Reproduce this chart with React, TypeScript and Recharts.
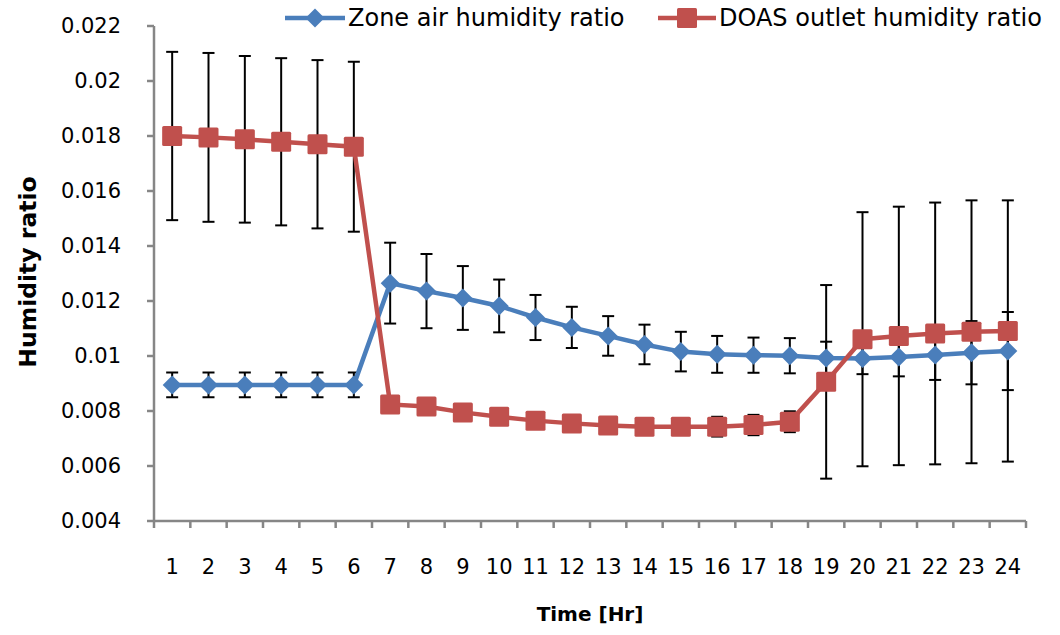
import React from 'react';
import { LineChart, Line, XAxis, YAxis, ErrorBar, Legend } from 'recharts';

// Hourly humidity ratios (kg/kg) with their spread
const hours = [1, 2, 3, 4, 5, 6, 7, 8, 9, 10, 11, 12, 13, 14, 15, 16, 17, 18, 19, 20, 21, 22, 23, 24];

const zoneAir = [
  0.00895, 0.00895, 0.00895, 0.00895, 0.00895, 0.00895, 0.01265, 0.01236, 0.01211, 0.01182, 0.0114, 0.01104,
  0.01073, 0.01042, 0.01016, 0.01006, 0.01003, 0.01001, 0.00993, 0.00991, 0.00996, 0.01004, 0.01012, 0.01018,
];
const zoneAirErr = [
  0.00045, 0.00045, 0.00045, 0.00045, 0.00045, 0.00045, 0.00147, 0.00135, 0.00116, 0.00096, 0.00082, 0.00075,
  0.00072, 0.00072, 0.00072, 0.00067, 0.00064, 0.00064, 0.00059, 0.00057, 0.0007, 0.00091, 0.00115, 0.00142,
];

const doasOutlet = [
  0.018, 0.01795, 0.01788, 0.01779, 0.0177, 0.01761, 0.00824, 0.00816, 0.00795, 0.00779, 0.00765, 0.00755,
  0.00747, 0.00743, 0.00743, 0.00743, 0.00749, 0.00761, 0.00906, 0.01061, 0.01073, 0.01082, 0.01088, 0.01091,
];
const doasOutletErr = [
  0.00306, 0.00307, 0.00303, 0.00304, 0.00306, 0.00309, 0.0003, 0.0003, 0.0003, 0.0003, 0.0003, 0.0003,
  0.0003, 0.0003, 0.0003, 0.00036, 0.00037, 0.00038, 0.00352, 0.00462, 0.0047, 0.00476, 0.00478, 0.00475,
];

const yTicks = [0.004, 0.006, 0.008, 0.01, 0.012, 0.014, 0.016, 0.018, 0.02, 0.022];
// labelled hours plus the boundaries between them, where tick marks go
const xTicks = [0.5, ...hours.flatMap((h) => [h, h + 0.5])];

const data = hours.map((hour, i) => ({
  hour,
  zone: zoneAir[i],
  zoneErr: zoneAirErr[i],
  doas: doasOutlet[i],
  doasErr: doasOutletErr[i],
}));

const BLUE = '#4a7ebb';
const RED = '#c0504d';
const AXIS = '#868686';
const FONT = '"DejaVu Sans", Arial, sans-serif';

const Diamond = ({ cx, cy, r = 9.5 }: any) => (
  <polygon points={`${cx},${cy - r} ${cx + r},${cy} ${cx},${cy + r} ${cx - r},${cy}`} fill={BLUE} />
);

const Square = ({ cx, cy, r = 10 }: any) => (
  <rect x={cx - r} y={cy - r} width={r * 2} height={r * 2} rx={1.5} fill={RED} />
);

const HourTick = ({ x, y, payload }: any) => {
  const v = payload.value;
  if (Number.isInteger(v)) {
    return (
      <text x={x} y={y + 46} textAnchor="middle" dominantBaseline="central" fontSize={21} fontFamily={FONT} fill="#000">
        {v}
      </text>
    );
  }
  return <line x1={x} x2={x} y1={y} y2={y + 7} stroke={AXIS} strokeWidth={2.5} />;
};

const renderLegend = () => (
  <svg width={1060} height={40}>
    <line x1={285} x2={345} y1={18} y2={18} stroke={BLUE} strokeWidth={4.5} />
    <Diamond cx={315} cy={18} />
    <text x={348} y={18} dominantBaseline="central" fontSize={24} fontFamily={FONT} fill="#000">
      Zone air humidity ratio
    </text>
    <line x1={658} x2={716} y1={18} y2={18} stroke={RED} strokeWidth={4.5} />
    <Square cx={687} cy={18} />
    <text x={719} y={18} dominantBaseline="central" fontSize={24} fontFamily={FONT} fill="#000">
      DOAS outlet humidity ratio
    </text>
  </svg>
);

export default function App() {
  return (
    <div style={{ position: 'absolute', left: 0, top: 0, background: '#fff' }}>
      <LineChart width={1060} height={635} data={data} margin={{ top: 26, right: 34, bottom: 14, left: 64 }}>
        <XAxis
          dataKey="hour"
          type="number"
          domain={[0.5, 24.5]}
          ticks={xTicks}
          interval={0}
          tick={<HourTick />}
          tickLine={false}
          tickSize={0}
          tickMargin={0}
          height={100}
          axisLine={{ stroke: AXIS, strokeWidth: 2.5 }}
          label={{
            content: () => (
              <text x={590} y={614} textAnchor="middle" dominantBaseline="central" fontSize={20} fontWeight="bold" fontFamily={FONT} fill="#000">
                Time [Hr]
              </text>
            ),
          }}
        />
        <YAxis
          domain={[0.004, 0.022]}
          ticks={yTicks}
          interval={0}
          width={90}
          tickSize={7}
          tickMargin={26}
          tick={{ fontSize: 21, fontFamily: FONT, fill: '#000' }}
          tickLine={{ stroke: AXIS, strokeWidth: 2.5 }}
          axisLine={{ stroke: AXIS, strokeWidth: 2.5 }}
          label={{
            content: () => (
              <text x={28} y={272} transform="rotate(-90 28 272)" textAnchor="middle" dominantBaseline="central" fontSize={23.5} fontWeight="bold" fontFamily={FONT} fill="#000">
                Humidity ratio
              </text>
            ),
          }}
        />
        <Legend
          layout="horizontal"
          verticalAlign="middle"
          align="center"
          content={renderLegend}
          wrapperStyle={{ top: 0, left: 0, width: 1060, height: 40 }}
        />
        <Line
          dataKey="zone"
          name="Zone air humidity ratio"
          stroke={BLUE}
          strokeWidth={4.5}
          dot={(p: any) => <Diamond key={`z${p.index}`} cx={p.cx} cy={p.cy} />}
          activeDot={false}
          isAnimationActive={false}
        >
          <ErrorBar dataKey="zoneErr" direction="y" width={6} stroke="#000" strokeWidth={2} />
        </Line>
        <Line
          dataKey="doas"
          name="DOAS outlet humidity ratio"
          stroke={RED}
          strokeWidth={4.5}
          dot={(p: any) => <Square key={`d${p.index}`} cx={p.cx} cy={p.cy} />}
          activeDot={false}
          isAnimationActive={false}
        >
          <ErrorBar dataKey="doasErr" direction="y" width={6} stroke="#000" strokeWidth={2} />
        </Line>
      </LineChart>
    </div>
  );
}
